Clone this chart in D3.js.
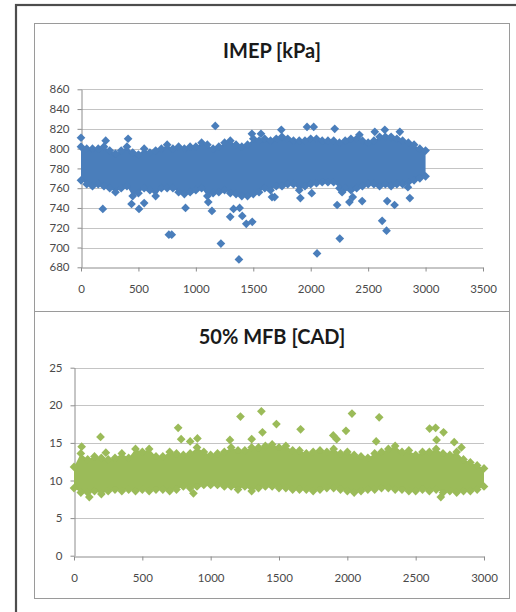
<!DOCTYPE html>
<html>
<head>
<meta charset="utf-8">
<script src="https://cdn.jsdelivr.net/npm/d3@7"></script>
<style>
  html, body { margin: 0; padding: 0; background: #fff; }
  svg { display: block; }
  .tick text { font-family: Lato, "Open Sans", sans-serif; font-size: 11.5px; fill: #4a4a4a; }
</style>
</head>
<body>
<div id="chart"></div>
<script>
// Envelope of the dense cloud, read every 50 cycles (marker centres)
const envCycles = d3.range(0, 3001, 50);

const imepUpper = [802, 800, 800, 800, 802, 798, 795, 798, 802, 796, 794, 800, 796, 798, 800, 804,
  800, 802, 800, 802, 802, 806, 804, 800, 802, 806, 808, 804, 802, 804, 810, 808, 810, 808, 810,
  812, 810, 808, 808, 808, 810, 810, 808, 808, 808, 806, 808, 810, 810, 808, 806, 808, 812, 812,
  812, 810, 808, 806, 804, 800, 798];
const imepLower = [768, 764, 762, 764, 762, 760, 756, 760, 762, 752, 755, 760, 758, 752, 760, 760,
  760, 756, 754, 756, 758, 760, 752, 755, 756, 758, 755, 754, 752, 752, 754, 756, 760, 758, 762,
  762, 764, 764, 758, 762, 764, 765, 766, 766, 766, 760, 760, 758, 760, 762, 764, 764, 762, 764,
  762, 764, 764, 766, 768, 770, 772];
const imepOutliers = [[0, 811], [190, 739], [215, 808], [410, 810], [440, 744], [505, 739], [550, 745],
  [765, 713], [790, 713], [910, 740], [1108, 746], [1140, 737], [1169, 823], [1218, 704], [1299, 731],
  [1328, 739], [1375, 688], [1381, 740], [1404, 732], [1439, 724], [1491, 726], [1488, 815], [1567, 815],
  [1663, 751], [1686, 751], [1744, 819], [1910, 750], [1968, 822], [2009, 755], [2026, 822], [2055, 694],
  [2209, 820], [2230, 743], [2253, 709], [2273, 756], [2337, 746], [2366, 751], [2424, 814], [2448, 747],
  [2558, 817], [2622, 727], [2645, 819], [2660, 717], [2666, 747], [2730, 743], [2776, 817], [2846, 761],
  [2863, 750]];

const mfbUpper = [11.8, 13.6, 12.8, 13.2, 13.0, 12.8, 13.0, 13.6, 13.0, 14.2, 13.8, 14.2, 13.2, 13.2,
  13.8, 13.6, 13.4, 13.6, 14.4, 13.8, 13.4, 13.6, 13.8, 14.4, 14.0, 14.0, 14.4, 14.4, 14.6, 14.8, 14.4,
  14.6, 14.0, 14.0, 13.6, 13.8, 14.0, 13.8, 14.2, 13.6, 13.8, 13.4, 13.2, 13.0, 13.6, 13.8, 14.2, 14.6,
  13.8, 14.0, 13.4, 13.8, 13.8, 14.2, 13.6, 13.4, 13.8, 12.8, 12.4, 12.0, 11.6];
const mfbLower = [9.0, 8.4, 8.4, 8.6, 8.2, 8.6, 8.8, 8.6, 8.8, 8.6, 8.8, 8.6, 8.8, 8.8, 8.6, 8.8, 9.2,
  9.0, 9.2, 9.4, 9.4, 9.4, 9.2, 9.2, 8.8, 9.2, 8.6, 9.0, 9.2, 9.2, 9.0, 9.0, 8.8, 8.8, 8.8, 8.6, 8.8,
  9.0, 9.0, 8.8, 8.6, 8.4, 8.6, 8.8, 8.8, 9.0, 9.0, 8.8, 8.8, 8.6, 8.6, 8.8, 8.6, 8.8, 8.4, 8.6, 8.4,
  8.6, 8.6, 8.8, 9.2];
const mfbOutliers = [[56, 14.5], [112, 7.8], [194, 15.8], [233, 13.7], [762, 17.0], [784, 15.5],
  [850, 15.2], [874, 8.3], [903, 15.6], [1141, 15.4], [1218, 18.5], [1300, 15.5], [1371, 19.2],
  [1379, 16.4], [1481, 17.5], [1658, 16.8], [1897, 16.0], [1922, 15.5], [1990, 16.6], [2034, 18.9],
  [2211, 15.2], [2233, 18.4], [2602, 16.9], [2646, 17.0], [2653, 15.4], [2684, 7.8], [2704, 16.4],
  [2782, 15.1], [2835, 14.4]];

const imepYTicks = [680, 700, 720, 740, 760, 780, 800, 820, 840, 860];
const imepXTicks = [0, 500, 1000, 1500, 2000, 2500, 3000, 3500];
const mfbYTicks = [0, 5, 10, 15, 20, 25];
const mfbXTicks = [0, 500, 1000, 1500, 2000, 2500, 3000];

const width = 516;
const height = 612;

const svg = d3.select("#chart")
  .append("svg")
  .attr("width", width)
  .attr("height", height);

// Outer frame
svg.append("rect")
  .attr("x", 16).attr("y", 5)
  .attr("width", 504).attr("height", 620)
  .attr("fill", "none")
  .attr("stroke", "#4d4d4d")
  .attr("stroke-width", 2.2);

const diamond = d3.symbol().type(d3.symbolSquare).size(38);
const fmt = d3.format("d");

function drawPanel(cfg) {
  const g = svg.append("g");

  // panel border
  g.append("rect")
    .attr("x", 34.5).attr("y", cfg.panelTop + 0.5)
    .attr("width", 475).attr("height", cfg.panelHeight)
    .attr("fill", "#fff")
    .attr("stroke", "#9a9a9a")
    .attr("stroke-width", 1);

  g.append("text")
    .attr("x", 272).attr("y", cfg.titleY)
    .attr("text-anchor", "middle")
    .attr("font-family", "Lato, 'Open Sans', sans-serif")
    .attr("font-weight", "bold")
    .attr("font-size", "20px")
    .attr("fill", "#1a1a1a")
    .text(cfg.title);

  const x = d3.scaleLinear().domain(cfg.xDomain).range([cfg.left, cfg.right]);
  const y = d3.scaleLinear().domain(cfg.yDomain).range([cfg.bottom, cfg.top]);

  // gridlines
  g.append("g")
    .selectAll("line")
    .data(cfg.yTicks.slice(1))
    .enter().append("line")
    .attr("x1", cfg.left).attr("x2", cfg.right)
    .attr("y1", d => Math.round(y(d)) + 0.5)
    .attr("y2", d => Math.round(y(d)) + 0.5)
    .attr("stroke", "#c4c4c4")
    .attr("stroke-width", 1);

  // y axis
  const yAxis = g.append("g")
    .attr("transform", `translate(${Math.round(cfg.left) + 0.5},0)`)
    .call(d3.axisLeft(y).tickValues(cfg.yTicks).tickFormat(fmt)
      .tickSize(4).tickPadding(8).tickSizeOuter(0));
  yAxis.select(".domain").attr("stroke", "#8c8c8c");
  yAxis.selectAll(".tick line").attr("stroke", "#8c8c8c");

  // x axis
  const xAxis = g.append("g")
    .attr("transform", `translate(0,${Math.round(cfg.bottom) + 0.5})`)
    .call(d3.axisBottom(x).tickValues(cfg.xTicks).tickFormat(fmt)
      .tickSize(4).tickSizeOuter(0));
  xAxis.select(".domain").attr("stroke", "#8c8c8c");
  xAxis.selectAll(".tick line").attr("stroke", "#8c8c8c");
  xAxis.selectAll(".tick text").attr("y", 21).attr("dy", "0.35em");

  // dense cloud body
  const env = envCycles.map((c, i) => ({ c: c, lo: cfg.lower[i], hi: cfg.upper[i] }));
  g.append("path")
    .datum(env)
    .attr("fill", cfg.color)
    .attr("d", d3.area()
      .x(d => x(d.c))
      .y0(d => y(d.lo))
      .y1(d => y(d.hi)));

  // markers along the cloud edges and the outliers
  const pts = env.map(d => [d.c, d.hi])
    .concat(env.map(d => [d.c, d.lo]))
    .concat(cfg.outliers);

  g.append("g")
    .selectAll("path")
    .data(pts)
    .enter().append("path")
    .attr("d", diamond)
    .attr("transform", d => `translate(${x(d[0])},${y(d[1])}) rotate(45)`)
    .attr("fill", cfg.color);
}

drawPanel({
  panelTop: 23, panelHeight: 288, titleY: 58, title: "IMEP [kPa]",
  left: 81, right: 483, top: 89.3, bottom: 267.3,
  xDomain: [0, 3500], yDomain: [680, 860],
  xTicks: imepXTicks, yTicks: imepYTicks,
  upper: imepUpper, lower: imepLower, outliers: imepOutliers,
  color: "#4a7ebb"
});

drawPanel({
  panelTop: 311, panelHeight: 287, titleY: 344, title: "50% MFB [CAD]",
  left: 74, right: 484, top: 367.7, bottom: 555.7,
  xDomain: [0, 3000], yDomain: [0, 25],
  xTicks: mfbXTicks, yTicks: mfbYTicks,
  upper: mfbUpper, lower: mfbLower, outliers: mfbOutliers,
  color: "#9bbb59"
});
</script>
</body>
</html>
